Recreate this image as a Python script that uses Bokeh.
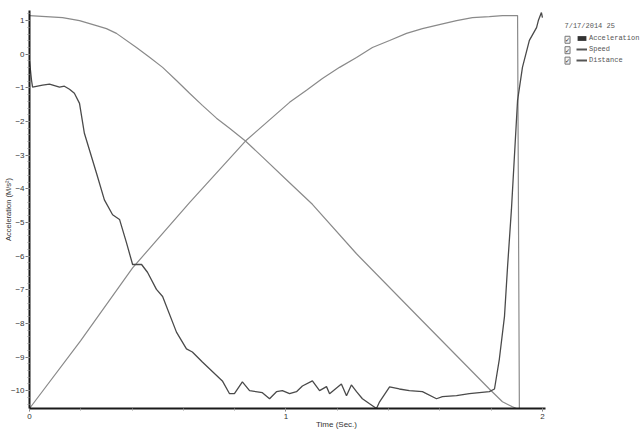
import math
from bokeh.plotting import figure
from bokeh.models import Range1d, SingleIntervalTicker, Label, Legend, LegendItem
from bokeh.embed import file_html
from bokeh.resources import INLINE

# ---- data ----
time_acc = [0.0, 0.008, 0.012, 0.051, 0.078, 0.117, 0.136, 0.156, 0.175, 0.195,
            0.214, 0.261, 0.292, 0.324, 0.351, 0.378, 0.402, 0.437, 0.460, 0.495,
            0.519, 0.573, 0.612, 0.635, 0.674, 0.752, 0.780, 0.799, 0.830, 0.858,
            0.908, 0.936, 0.963, 0.986, 1.014, 1.041, 1.064, 1.103, 1.131, 1.158,
            1.170, 1.216, 1.236, 1.255, 1.275, 1.298, 1.326, 1.353, 1.365, 1.404,
            1.442, 1.481, 1.532, 1.587, 1.610, 1.665, 1.715, 1.793, 1.813, 1.832,
            1.852, 1.864, 1.879, 1.903, 1.922, 1.949, 1.977, 1.984, 1.996, 2.0]
acceleration = [-0.2, -0.78, -0.98, -0.92, -0.89, -0.98, -0.95, -1.04, -1.16, -1.46,
                -2.35, -3.53, -4.33, -4.77, -4.91, -5.60, -6.25, -6.25, -6.48, -6.99,
                -7.20, -8.26, -8.76, -8.85, -9.15, -9.71, -10.09, -10.09, -9.74, -10.0,
                -10.06, -10.24, -10.03, -10.0, -10.09, -10.03, -9.86, -9.71, -10.0, -9.88,
                -10.09, -9.80, -10.15, -9.83, -10.03, -10.24, -10.39, -10.53, -10.33, -9.89,
                -9.95, -10.0, -10.03, -10.24, -10.18, -10.15, -10.09, -10.03, -9.95, -9.06,
                -7.79, -6.31, -4.62, -1.37, -0.39, 0.41, 0.79, 1.0, 1.24, 1.09]

time_speed = [0.0, 0.199, 0.402, 0.624, 0.842, 1.014, 1.080, 1.142, 1.209, 1.275,
              1.337, 1.404, 1.470, 1.532, 1.598, 1.665, 1.727, 1.793, 1.844, 1.903, 1.910]
speed = [-10.53, -8.52, -6.35, -4.41, -2.58, -1.43, -1.07, -0.72, -0.39, -0.10,
         0.20, 0.41, 0.62, 0.76, 0.88, 1.0, 1.09, 1.12, 1.15, 1.15, -10.53]

time_dist = [0.0, 0.129, 0.195, 0.261, 0.300, 0.339, 0.417, 0.468, 0.519, 0.573,
             0.624, 0.674, 0.729, 0.780, 0.842, 0.908, 1.014, 1.103, 1.275, 1.532,
             1.793, 1.844, 1.883, 1.899]
distance = [1.15, 1.09, 1.0, 0.85, 0.76, 0.62, 0.20, -0.09, -0.39, -0.78,
            -1.16, -1.52, -1.90, -2.20, -2.58, -3.05, -3.82, -4.46, -5.93, -7.93,
            -9.95, -10.33, -10.48, -10.53]

legend_title = "7/17/2014 25"
series_names = ["Acceleration", "Speed", "Distance"]
x_label = "Time (Sec.)"
y_label = "Acceleration (M/s\u00b2)"

# ---- figure ----
p = figure(width=643, height=431, output_backend="svg", toolbar_location=None,
           x_range=Range1d(0, 2.394), y_range=Range1d(-10.53, 1.30),
           min_border_left=29, min_border_right=0, min_border_top=10,
           min_border_bottom=21)
p.outline_line_color = None
p.grid.visible = False
p.background_fill_color = "white"

for ax in (p.xaxis[0], p.yaxis[0]):
    ax.ticker = SingleIntervalTicker(interval=1, num_minor_ticks=5)
    ax.axis_line_width = 2
    ax.axis_line_color = "#1a1a1a"
    ax.major_tick_in = 0
    ax.major_tick_out = 4
    ax.minor_tick_in = 0
    ax.minor_tick_out = 2
    ax.major_tick_line_color = "#777777"
    ax.minor_tick_line_color = "#999999"
    ax.major_label_text_font = "Liberation Sans"
    ax.major_label_text_font_size = "8px"
    ax.major_label_text_color = "#333333"
    ax.major_label_standoff = 2
    ax.axis_label_text_font = "Liberation Sans"
    ax.axis_label_text_font_style = "normal"
    ax.axis_label_text_color = "#333333"

p.xaxis.bounds = (0, 2.012)
p.xaxis.major_tick_out = 3
p.xaxis.axis_label = x_label
p.xaxis.axis_label_text_font_size = "8px"
p.xaxis.axis_label_standoff = -2

p.yaxis.axis_label = y_label
p.yaxis.axis_label_text_font_size = "7.5px"
p.yaxis.major_label_standoff = 1
p.yaxis.axis_label_standoff = -5

# ---- series ----
p.line(time_speed, speed, line_color="#8a8a8a", line_width=1.2)
p.line(time_dist, distance, line_color="#8a8a8a", line_width=1.2)
p.line(time_acc, acceleration, line_color="#4a4a4a", line_width=1.3)

# ---- legend swatches (hidden renderers, shown only in the legend) ----
r_sq = p.varea(x=time_acc, y1=acceleration, y2=acceleration,
               fill_color="#333333", visible=False)
r_sp = p.line(time_speed, speed, line_color="#555555", line_width=2, visible=False)
r_di = p.line(time_dist, distance, line_color="#555555", line_width=2, visible=False)
legend = Legend(items=[LegendItem(label=series_names[0], renderers=[r_sq]),
                       LegendItem(label=series_names[1], renderers=[r_sp]),
                       LegendItem(label=series_names[2], renderers=[r_di])],
                location=(547, 343), glyph_width=11, glyph_height=6,
                label_height=10, spacing=1, padding=0, margin=0, label_standoff=2,
                label_text_font="Liberation Mono", label_text_font_size="7px",
                label_text_color="#555555", background_fill_alpha=0,
                border_line_color=None, click_policy="none")
p.add_layout(legend)

p.add_layout(Label(x=2.086, y=0.83, text=legend_title, text_baseline="middle",
                   text_font="Liberation Mono", text_font_size="7px",
                   text_color="#555555"))
for yy in (0.43, 0.12, -0.19):
    p.add_layout(Label(x=2.088, y=yy, text="\u2713", text_baseline="middle",
                       text_font="DejaVu Sans", text_font_size="6px",
                       text_color="#222222", border_line_color="#777777",
                       border_line_width=1, background_fill_color="#f4f4f4",
                       padding=0))

open("out.html", "w").write(file_html(p, INLINE))
